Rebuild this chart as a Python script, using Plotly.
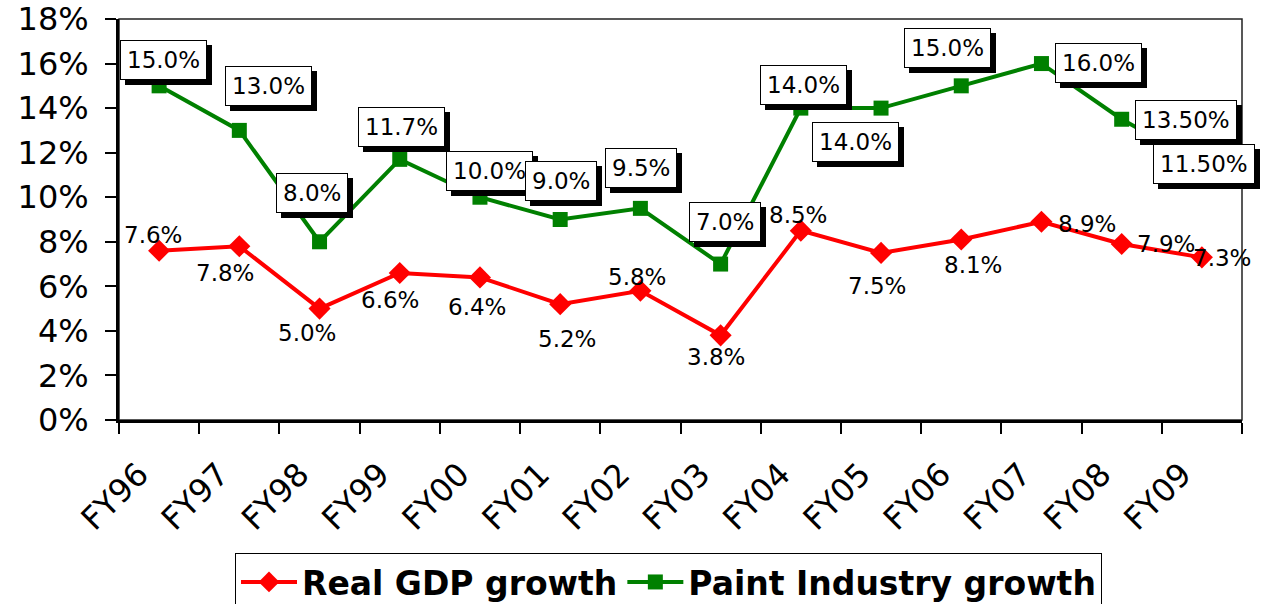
import plotly.graph_objects as go

years = ["FY96", "FY97", "FY98", "FY99", "FY00", "FY01", "FY02",
         "FY03", "FY04", "FY05", "FY06", "FY07", "FY08", "FY09"]
gdp_growth = [7.6, 7.8, 5.0, 6.6, 6.4, 5.2, 5.8, 3.8, 8.5, 7.5, 8.1, 8.9, 7.9, 7.3]
paint_growth = [15.0, 13.0, 8.0, 11.7, 10.0, 9.0, 9.5, 7.0, 14.0, 14.0, 15.0, 16.0, 13.5, 11.5]
gdp_labels = ["7.6%", "7.8%", "5.0%", "6.6%", "6.4%", "5.2%", "5.8%",
              "3.8%", "8.5%", "7.5%", "8.1%", "8.9%", "7.9%", "7.3%"]
paint_labels = ["15.0%", "13.0%", "8.0%", "11.7%", "10.0%", "9.0%", "9.5%",
                "7.0%", "14.0%", "14.0%", "15.0%", "16.0%", "13.50%", "11.50%"]

# label placement offsets in pixels (dx right, dy down) relative to the point
paint_offsets = [(4, -26), (29, -44), (-8, -49), (2, -32), (10, -26), (1, -39), (1, -40),
                 (4, -42), (3, -23), (-26, 34), (-14, -38), (57, -1), (64, 1), (2, 0)]
gdp_offsets = [(-6, -16), (-14, 27), (-13, 24), (-10, 27), (-3, 30), (7, 35), (-3, -14),
               (-5, 22), (-3, -16), (-4, 33), (12, 25), (46, 2), (44, 0), (20, 1)]

FONT = "DejaVu Sans"
RED = "#FF0000"
GREEN = "#008000"

fig = go.Figure()
fig.add_trace(go.Scatter(
    x=years, y=gdp_growth, name="Real GDP growth", mode="lines+markers",
    line=dict(color=RED, width=4),
    marker=dict(symbol="diamond", size=17, color=RED),
))
fig.add_trace(go.Scatter(
    x=years, y=paint_growth, name="Paint Industry growth", mode="lines+markers",
    line=dict(color=GREEN, width=4),
    marker=dict(symbol="square", size=15, color=GREEN),
))

annotations = []
for yr, v, lab, (dx, dy) in zip(years, paint_growth, paint_labels, paint_offsets):
    # drop shadow
    annotations.append(dict(
        x=yr, y=v, text=lab, showarrow=False, xshift=dx + 5, yshift=-dy - 5,
        font=dict(family=FONT, size=23, color="black"),
        bgcolor="black", bordercolor="black", borderwidth=1, borderpad=6,
    ))
    annotations.append(dict(
        x=yr, y=v, text=lab, showarrow=False, xshift=dx, yshift=-dy,
        font=dict(family=FONT, size=23, color="black"),
        bgcolor="white", bordercolor="black", borderwidth=1, borderpad=6,
    ))
for yr, v, lab, (dx, dy) in zip(years, gdp_growth, gdp_labels, gdp_offsets):
    annotations.append(dict(
        x=yr, y=v, text=lab, showarrow=False, xshift=dx, yshift=-dy,
        font=dict(family=FONT, size=23, color="black"),
    ))

fig.update_layout(
    width=1262, height=604,
    margin=dict(l=119, r=20, t=19, b=184, autoexpand=False),
    paper_bgcolor="white", plot_bgcolor="white",
    font=dict(family=FONT, color="black"),
    showlegend=True,
    legend=dict(
        orientation="h", x=0.1033, xanchor="left", y=-0.3317, yanchor="top",
        font=dict(family="DejaVu Sans", size=33, color="black", weight="bold"),
        bordercolor="black", borderwidth=1, bgcolor="white",
        itemwidth=56, tracegroupgap=0,
    ),
    annotations=annotations,
    shapes=[dict(type="rect", xref="paper", yref="paper", x0=0, x1=1, y0=0, y1=1,
                 line=dict(color="#222222", width=1.5), layer="below")],
)
fig.update_xaxes(
    type="category", range=[-0.5, 13.5], tickson="boundaries",
    ticks="outside", ticklen=11, tickwidth=1.5, tickcolor="black",
    showline=True, linecolor="black", linewidth=2.5,
    showgrid=False, zeroline=False, tickangle=-45,
    ticklabelstandoff=20, ticklabelshift=-20,
    tickfont=dict(family=FONT, size=32, color="black"),
)
fig.update_yaxes(
    range=[0, 18], dtick=2, ticksuffix="%\u00a0",
    ticks="outside", ticklen=11, tickwidth=1.5, tickcolor="black",
    showline=True, linecolor="black", linewidth=2.5,
    showgrid=False, zeroline=False,
    tickfont=dict(family=FONT, size=32, color="black"),
)

fig.write_html("out.html", config={"displayModeBar": False},
               post_script="document.body.style.margin='0';document.body.style.overflow='hidden';")
